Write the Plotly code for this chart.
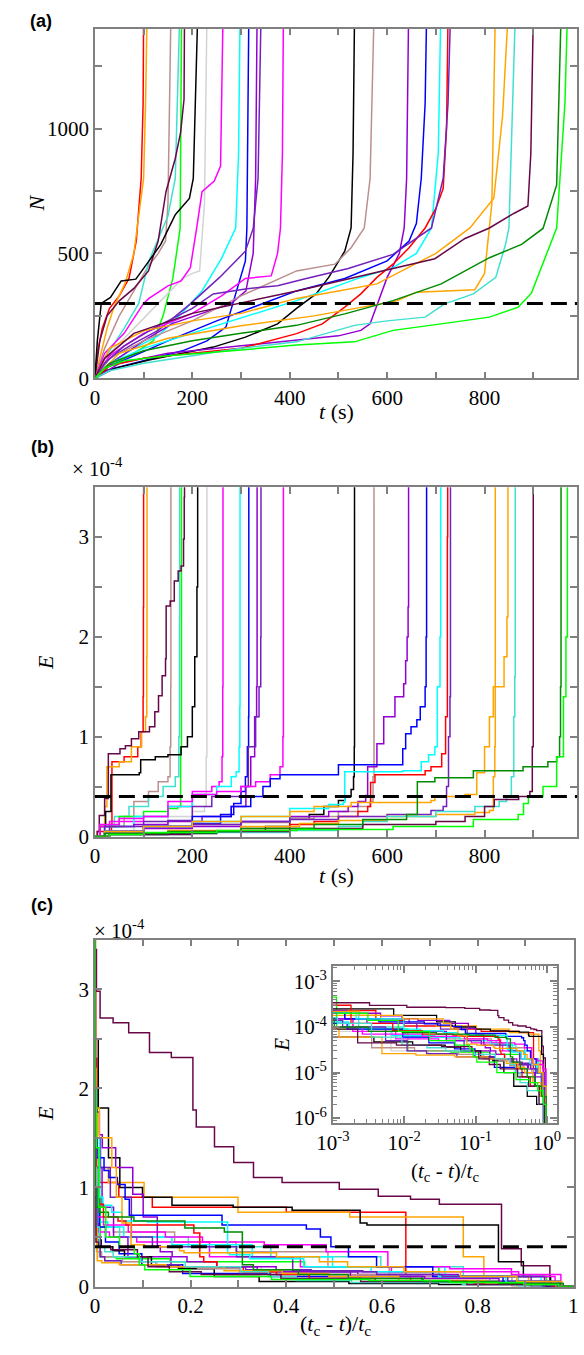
import plotly.graph_objects as go

# ---------------- DATA ----------------
# failure times t_c (s) of the 27 samples and xmgrace colours
t_c = [100, 107, 156, 174, 178, 184, 211, 230, 263, 298, 316, 333, 341, 387,
       533, 573, 644, 681, 710, 725, 730, 822, 848, 863, 900, 957, 970]
colors = ["#FF0000", "#FFA500", "#BC8F8F", "#40E0D0", "#00FF00", "#670748", "#000000",
          "#D3D3D3", "#FF00FF", "#00FFFF", "#0000FF", "#9400D3", "#7221BC", "#FF00FF",
          "#000000", "#BC8F8F", "#9400D3", "#0000FF", "#00FFFF", "#FF0000", "#7221BC",
          "#FFA500", "#FFA500", "#40E0D0", "#670748", "#008B00", "#00FF00"]

# N(t): number of events; E(t): energy in units of 1e-4
c01_tN = [0, 5, 15, 30, 50, 70, 85, 95, 99, 100]
c01_N = [0, 100, 200, 280, 330, 400, 550, 800, 1100, 1450]
c01_tE = [0, 5, 34, 35, 60, 88, 95, 99, 99.6, 100]
c01_E = [0, 0.05, 0.1, 0.75, 0.8, 0.9, 1.05, 1.4, 2.3, 50]

c02_tN = [0, 10, 25, 40, 62, 80, 91, 100, 104, 107]
c02_N = [0, 80, 200, 290, 380, 500, 668, 800, 1100, 1450]
c02_tE = [0, 10, 20, 24.6, 50, 75, 96, 104, 106.5, 107]
c02_E = [0, 0.1, 0.3, 0.7, 0.75, 0.9, 1.05, 1.2, 1.8, 50]

c03_tN = [0, 20, 50, 80, 110, 130, 145, 150, 156]
c03_N = [0, 120, 250, 350, 450, 500, 550, 700, 1450]
c03_tE = [0, 20, 60, 80, 110, 130, 150, 154.4, 155.7, 156]
c03_E = [0, 0.1, 0.2, 0.35, 0.45, 0.55, 0.6, 0.9, 1.5, 50]

c04_tN = [0, 20, 60, 90, 111, 130, 150, 165, 174]
c04_N = [0, 80, 200, 300, 470, 560, 650, 800, 1450]
c04_tE = [0, 20, 40, 70, 110, 140, 165, 172.3, 173.6, 174]
c04_E = [0, 0.1, 0.2, 0.3, 0.4, 0.5, 0.6, 1.0, 2.2, 50]

c05_tN = [0, 30, 80, 120, 140, 160, 175, 178]
c05_N = [0, 50, 100, 150, 250, 400, 600, 1450]
c05_tE = [0, 10, 50, 100, 150, 170, 176, 177.8, 178]
c05_E = [0, 0.1, 0.2, 0.25, 0.28, 0.3, 0.9, 4.5, 50]

c06_tN = [0, 10, 25, 50, 80, 110, 130, 146, 165, 176, 183, 184]
c06_N = [0, 150, 250, 310, 360, 430, 550, 747, 880, 985, 1117, 1450]
c06_tE = [0, 5, 9, 20, 27.6, 51.5, 62.6, 75, 90, 112, 123, 130.6, 138, 145,
          146.3, 154.6, 163, 171, 177, 182, 183.4, 184]
c06_E = [0, 0.05, 0.21, 0.38, 0.83, 0.88, 0.91, 0.98, 1.05, 1.1, 1.25, 1.41, 1.61, 1.78,
         2.31, 2.36, 2.56, 2.66, 2.71, 2.98, 3.4, 50]

c07_tN = [0, 5, 13, 32, 54, 84, 106, 135, 165, 194, 202, 206, 211]
c07_N = [0, 150, 300, 324, 390, 397, 456, 535, 655, 720, 800, 1118, 1450]
c07_tE = [0, 10, 22, 33, 91, 94, 124, 150, 177, 190, 200, 205, 209.5, 211]
c07_E = [0, 0.1, 0.25, 0.62, 0.64, 0.77, 0.8, 0.82, 0.9, 1.0, 1.3, 1.8, 2.5, 50]

c08_tN = [0, 30, 80, 130, 180, 200, 215, 225, 230]
c08_N = [0, 100, 200, 300, 400, 420, 430, 700, 1450]
c08_tE = [0, 20, 80, 150, 200, 225, 228.5, 230]
c08_E = [0, 0.05, 0.1, 0.2, 0.25, 0.3, 0.8, 50]

c09_tN = [0, 20, 60, 100, 111, 150, 177, 196, 209, 220, 245, 258, 263]
c09_N = [0, 100, 180, 300, 320, 370, 390, 443, 602, 747, 790, 850, 1450]
c09_tE = [0, 10, 30, 100, 150, 200, 240, 255, 261, 262.5, 263]
c09_E = [0, 0.1, 0.15, 0.2, 0.3, 0.45, 0.5, 0.55, 0.8, 1.5, 50]

c10_tN = [0, 30, 80, 130, 177, 220, 260, 289, 295, 298]
c10_N = [0, 60, 120, 170, 258, 350, 480, 602, 900, 1450]
c10_tE = [0, 20, 80, 150, 200, 250, 280, 290, 296, 297.5, 298]
c10_E = [0, 0.1, 0.2, 0.3, 0.42, 0.5, 0.6, 0.65, 0.9, 1.3, 50]

c11_tN = [0, 40, 100, 180, 230, 269, 289, 309, 312, 316]
c11_N = [0, 40, 70, 110, 150, 205, 338, 470, 600, 1450]
c11_tE = [0, 20, 100, 200, 258, 285, 300, 309, 313, 315.5, 316]
c11_E = [0, 0.05, 0.1, 0.13, 0.22, 0.33, 0.45, 0.6, 0.9, 1.2, 50]

c12_tN = [0, 40, 100, 160, 220, 280, 310, 325, 330, 333]
c12_N = [0, 70, 150, 220, 260, 300, 350, 500, 800, 1450]
c12_tE = [0, 20, 80, 150, 220, 280, 310, 320, 328, 332, 333]
c12_E = [0, 0.1, 0.12, 0.15, 0.2, 0.3, 0.5, 0.8, 1.2, 1.5, 50]

c13_tN = [0, 30, 80, 130, 196, 256, 309, 325, 335, 341]
c13_N = [0, 80, 140, 192, 298, 404, 509, 600, 800, 1450]
c13_tE = [0, 30, 100, 150, 200, 240, 300, 315, 330, 337, 340.5, 341]
c13_E = [0, 0.1, 0.15, 0.16, 0.3, 0.4, 0.5, 0.9, 1.2, 1.5, 2.0, 50]

c14_tN = [0, 30, 100, 200, 260, 309, 362, 375, 381, 385, 387]
c14_N = [0, 90, 180, 260, 330, 400, 410, 500, 602, 900, 1450]
c14_tE = [0, 10, 50, 100, 150, 200, 250, 300, 330, 360, 380, 386, 387]
c14_E = [0, 0.12, 0.18, 0.2, 0.35, 0.42, 0.45, 0.5, 0.55, 0.62, 0.7, 1.0, 50]

c15_tN = [0, 20, 111, 177, 243, 309, 375, 414, 454, 480, 513, 526, 530, 533]
c15_N = [0, 30, 73, 99, 125, 165, 218, 280, 338, 404, 509, 602, 900, 1450]
c15_tE = [0, 30, 150, 250, 350, 400, 440, 470, 500, 513, 526, 531, 532.5, 533]
c15_E = [0, 0.02, 0.03, 0.05, 0.1, 0.18, 0.22, 0.3, 0.36, 0.4, 0.47, 0.6, 0.9, 50]

c16_tN = [0, 30, 100, 200, 300, 414, 493, 526, 553, 565, 573]
c16_N = [0, 80, 150, 230, 330, 430, 457, 523, 602, 800, 1450]
c16_tE = [0, 20, 100, 200, 300, 400, 450, 500, 540, 565, 571, 573]
c16_E = [0, 0.05, 0.1, 0.12, 0.14, 0.18, 0.2, 0.25, 0.3, 0.35, 0.6, 50]

c17_tN = [0, 50, 150, 300, 414, 500, 546, 565, 580, 600, 625, 635, 640, 644]
c17_N = [0, 60, 100, 130, 150, 170, 192, 218, 298, 404, 500, 602, 800, 1450]
c17_tE = [0, 30, 100, 200, 300, 400, 480, 520, 540, 556, 560, 579, 593, 616, 634, 638, 641, 643, 644]
c17_E = [0, 0.05, 0.08, 0.1, 0.15, 0.2, 0.25, 0.3, 0.35, 0.41, 0.7, 0.93, 1.2, 1.4, 1.53, 1.76, 2.0, 2.3, 50]

c18_tN = [0, 20, 80, 150, 250, 330, 414, 513, 600, 645, 660, 670, 678, 681]
c18_N = [0, 40, 90, 150, 230, 290, 350, 400, 470, 550, 620, 800, 1100, 1450]
c18_tE = [0, 20, 100, 200, 280, 320, 345, 360, 380, 500, 632, 638, 649, 661, 668, 678, 680, 681]
c18_E = [0, 0.05, 0.1, 0.2, 0.3, 0.4, 0.5, 0.58, 0.62, 0.72, 0.88, 1.03, 1.1, 1.17, 1.3, 1.5, 2.0, 50]

c19_tN = [0, 30, 100, 200, 300, 414, 546, 612, 660, 691, 705, 710]
c19_N = [0, 60, 120, 180, 240, 311, 404, 443, 500, 602, 900, 1450]
c19_tE = [0, 20, 100, 200, 300, 400, 480, 510, 513, 632, 670, 685, 698, 703, 708.5, 710]
c19_E = [0, 0.05, 0.1, 0.15, 0.2, 0.28, 0.32, 0.34, 0.65, 0.66, 0.75, 0.82, 0.9, 1.5, 2.0, 50]

c20_tN = [0, 30, 100, 200, 300, 414, 467, 513, 546, 579, 612, 645, 678, 700, 715, 722, 725]
c20_N = [0, 50, 80, 100, 120, 179, 218, 285, 338, 404, 457, 523, 602, 680, 760, 1000, 1450]
c20_tE = [0, 30, 150, 300, 400, 450, 500, 540, 560, 566, 575, 678, 690, 712, 720, 723.7, 724.3, 725]
c20_E = [0, 0.03, 0.05, 0.08, 0.12, 0.15, 0.2, 0.25, 0.3, 0.54, 0.62, 0.66, 0.7, 0.83, 1.2, 3.0, 10, 50]

c21_tN = [0, 20, 60, 120, 200, 243, 309, 375, 434, 520, 612, 691, 715, 725, 730]
c21_N = [0, 60, 130, 200, 280, 338, 358, 371, 400, 440, 496, 602, 800, 1100, 1450]
c21_tE = [0, 20, 100, 200, 300, 400, 500, 600, 690, 715, 722, 726, 729, 730]
c21_E = [0, 0.05, 0.1, 0.12, 0.15, 0.17, 0.2, 0.22, 0.26, 0.3, 0.5, 1.0, 1.4, 50]

c22_tN = [0, 50, 150, 300, 450, 550, 620, 660, 780, 800, 815, 822]
c22_N = [0, 100, 160, 210, 250, 285, 310, 345, 355, 420, 700, 1450]
c22_tE = [0, 30, 150, 300, 420, 500, 600, 700, 780, 810, 818, 821, 822]
c22_E = [0, 0.03, 0.06, 0.1, 0.13, 0.16, 0.2, 0.22, 0.24, 0.26, 0.6, 0.9, 50]

c23_tN = [0, 30, 100, 200, 300, 414, 500, 579, 650, 700, 770, 819, 837, 848]
c23_N = [0, 120, 190, 230, 260, 320, 350, 378, 450, 500, 602, 721, 1050, 1450]
c23_tE = [0, 20, 100, 200, 300, 400, 450, 526, 690, 698, 760, 784, 800, 810, 818, 840, 846, 848]
c23_E = [0, 0.05, 0.1, 0.15, 0.2, 0.25, 0.3, 0.34, 0.36, 0.4, 0.42, 0.64, 0.9, 1.2, 1.5, 1.8, 2.2, 50]

c24_tN = [0, 30, 100, 200, 300, 414, 533, 600, 678, 718, 777, 823, 843, 850, 863]
c24_N = [0, 30, 60, 90, 120, 146, 212, 230, 245, 298, 338, 404, 536, 602, 1450]
c24_tE = [0, 30, 200, 400, 500, 550, 600, 700, 780, 830, 845, 855, 860, 862, 863]
c24_E = [0, 0.02, 0.04, 0.06, 0.1, 0.15, 0.2, 0.25, 0.3, 0.35, 0.4, 0.6, 1.2, 1.6, 50]

c25_tN = [0, 20, 80, 200, 414, 500, 593, 698, 760, 810, 860, 889, 895, 900]
c25_N = [0, 80, 180, 260, 350, 390, 433, 479, 560, 602, 660, 690, 900, 1450]
c25_tE = [0, 30, 200, 400, 550, 700, 760, 800, 820, 870, 893, 898, 900]
c25_E = [0, 0.02, 0.05, 0.08, 0.12, 0.15, 0.2, 0.3, 0.37, 0.4, 0.45, 0.9, 50]

c26_tN = [0, 30, 100, 200, 300, 414, 513, 612, 711, 810, 876, 920, 948, 957]
c26_N = [0, 60, 110, 150, 180, 212, 258, 311, 378, 483, 536, 600, 774, 1450]
c26_tE = [0, 20, 150, 300, 450, 550, 640, 662, 698, 777, 879, 930, 948, 954, 956, 957]
c26_E = [0, 0.03, 0.05, 0.08, 0.12, 0.17, 0.22, 0.55, 0.59, 0.66, 0.7, 0.75, 0.8, 1.0, 1.5, 50]

c27_tN = [0, 20, 60, 150, 250, 414, 533, 612, 711, 810, 869, 879, 896, 948, 955, 965, 970]
c27_N = [0, 40, 70, 90, 105, 133, 146, 192, 218, 245, 285, 305, 340, 602, 800, 1100, 1450]
c27_tE = [0, 30, 100, 250, 414, 612, 777, 869, 880, 890, 920, 948, 962, 967, 970]
c27_E = [0, 0.02, 0.04, 0.06, 0.07, 0.1, 0.17, 0.22, 0.33, 0.4, 0.5, 0.8, 1.4, 2.0, 50]

N_threshold = 300
E_threshold = 0.4  # x 1e-4

curves = [
    (c01_tN, c01_N, c01_tE, c01_E), (c02_tN, c02_N, c02_tE, c02_E),
    (c03_tN, c03_N, c03_tE, c03_E), (c04_tN, c04_N, c04_tE, c04_E),
    (c05_tN, c05_N, c05_tE, c05_E), (c06_tN, c06_N, c06_tE, c06_E),
    (c07_tN, c07_N, c07_tE, c07_E), (c08_tN, c08_N, c08_tE, c08_E),
    (c09_tN, c09_N, c09_tE, c09_E), (c10_tN, c10_N, c10_tE, c10_E),
    (c11_tN, c11_N, c11_tE, c11_E), (c12_tN, c12_N, c12_tE, c12_E),
    (c13_tN, c13_N, c13_tE, c13_E), (c14_tN, c14_N, c14_tE, c14_E),
    (c15_tN, c15_N, c15_tE, c15_E), (c16_tN, c16_N, c16_tE, c16_E),
    (c17_tN, c17_N, c17_tE, c17_E), (c18_tN, c18_N, c18_tE, c18_E),
    (c19_tN, c19_N, c19_tE, c19_E), (c20_tN, c20_N, c20_tE, c20_E),
    (c21_tN, c21_N, c21_tE, c21_E), (c22_tN, c22_N, c22_tE, c22_E),
    (c23_tN, c23_N, c23_tE, c23_E), (c24_tN, c24_N, c24_tE, c24_E),
    (c25_tN, c25_N, c25_tE, c25_E), (c26_tN, c26_N, c26_tE, c26_E),
    (c27_tN, c27_N, c27_tE, c27_E),
]

# ---------------- FIGURE ----------------
W, H = 584, 1355


def px(x):
    return x / W


def py(y):
    return 1 - y / H


fig = go.Figure()
LW = 1.5
for tc, col, (tN, N, tE, E) in zip(t_c, colors, curves):
    fig.add_trace(go.Scatter(x=tN, y=N, mode="lines", line=dict(color=col, width=LW),
                             xaxis="x", yaxis="y", showlegend=False, hoverinfo="skip"))
    fig.add_trace(go.Scatter(x=tE, y=E, mode="lines", line=dict(color=col, width=LW, shape="hv"),
                             xaxis="x2", yaxis="y2", showlegend=False, hoverinfo="skip"))
    s = [(tc - t) / tc for t in tE]
    fig.add_trace(go.Scatter(x=s, y=E, mode="lines", line=dict(color=col, width=LW, shape="hv"),
                             xaxis="x3", yaxis="y3", showlegend=False, hoverinfo="skip"))
    fig.add_trace(go.Scatter(x=[max(v, 1e-4) for v in s], y=[max(e * 1e-4, 1e-7) for e in E],
                             mode="lines", line=dict(color=col, width=1.3, shape="hv"),
                             xaxis="x4", yaxis="y4", showlegend=False, hoverinfo="skip"))

SERIF = "Times New Roman, Liberation Serif, DejaVu Serif, serif"
SANS = "Arial, Liberation Sans, DejaVu Sans, sans-serif"
AX = "#808080"
TF = dict(family=SERIF, size=21, color="black")
common = dict(showline=True, linecolor=AX, linewidth=1.5, mirror="ticks", ticks="inside",
              ticklen=7, tickcolor=AX, tickwidth=1.5, showgrid=False, zeroline=False,
              tickfont=TF, fixedrange=True, ticklabeloverflow="allow")


def minor(d, ln=7):
    return dict(dtick=d, ticks="inside", ticklen=ln, tickcolor=AX, tickwidth=1.5, showgrid=False)


xl, xr = 80.8, 581
fig.update_layout(
    xaxis=dict(common, domain=[px(xl), px(xr)], range=[0, 990], tick0=0, dtick=200,
               minor=minor(100), anchor="y"),
    yaxis=dict(common, domain=[py(381.7), py(28.9)], range=[0, 1400], tick0=0, dtick=500,
               minor=minor(250), anchor="x"),
    xaxis2=dict(common, domain=[px(xl), px(xr)], range=[0, 990], tick0=0, dtick=200,
                minor=minor(100), anchor="y2"),
    yaxis2=dict(common, domain=[py(844), py(491.5)], range=[0, 3.5], tick0=0, dtick=1,
                minor=minor(0.5), anchor="x2"),
    xaxis3=dict(common, domain=[px(xl), px(578)], range=[0, 1.002], tick0=0, dtick=0.2,
                minor=minor(0.1), anchor="y3", tickvals=[0, 0.2, 0.4, 0.6, 0.8, 1],
                ticktext=["0", "0.2", "0.4", "0.6", "0.8", "1"]),
    yaxis3=dict(common, domain=[py(1298), py(948)], range=[0, 3.5], tick0=0, dtick=1,
                minor=minor(0.5), anchor="x3"),
    xaxis4=dict(common, type="log", domain=[px(327.7), px(560)], range=[-3, 0.14],
                tickvals=[1e-3, 1e-2, 1e-1, 1],
                ticktext=["10<sup>-3</sup>", "10<sup>-2</sup>", "10<sup>-1</sup>", "10<sup>0</sup>"],
                minor=dict(ticks="inside", ticklen=4, tickcolor=AX, tickwidth=1, dtick="D1"),
                anchor="y4"),
    yaxis4=dict(common, type="log", domain=[py(1132.7), py(975)], range=[-6.1, -2.67],
                tickvals=[1e-6, 1e-5, 1e-4, 1e-3],
                ticktext=["10<sup>-6</sup>", "10<sup>-5</sup>", "10<sup>-4</sup>", "10<sup>-3</sup>"],
                minor=dict(ticks="inside", ticklen=4, tickcolor=AX, tickwidth=1, dtick="D1"),
                anchor="x4"),
)

# threshold lines
dash = dict(color="black", width=3, dash="16px,8px")
fig.add_shape(type="line", xref="x domain", yref="y", x0=0, x1=1, y0=N_threshold, y1=N_threshold, line=dash)
fig.add_shape(type="line", xref="x2 domain", yref="y2", x0=0, x1=1, y0=E_threshold, y1=E_threshold, line=dash)
fig.add_shape(type="line", xref="x3 domain", yref="y3", x0=0, x1=1, y0=E_threshold, y1=E_threshold, line=dash)

ann = []


def A(x, y, text, size=22, angle=0, family=SERIF):
    ann.append(dict(x=px(x), y=py(y), xref="paper", yref="paper", text=text, showarrow=False,
                    textangle=angle, font=dict(family=family, size=size, color="black"),
                    xanchor="center", yanchor="middle"))


A(25, 21, "<b>(a)</b>", 18, family=SANS)
A(26, 451, "<b>(b)</b>", 18, family=SANS)
A(26, 913, "<b>(c)</b>", 18, family=SANS)
A(83, 472, "× 10<sup>-4</sup>", 21)
A(106, 938, "× 10<sup>-4</sup>", 21)
A(20, 205, "<i>N</i>", 22, -90)
A(29, 668, "<i>E</i>", 22, -90)
A(29, 1123, "<i>E</i>", 22, -90)
A(331, 415, "<i>t</i> (s)", 22)
A(331, 883, "<i>t</i> (s)", 22)
A(330, 1337, "(<i>t</i><sub>c</sub> - <i>t</i>)/<i>t</i><sub>c</sub>", 22)
A(275, 1054, "<i>E</i>", 21, -90)
A(444, 1182, "(<i>t</i><sub>c</sub> - <i>t</i>)/<i>t</i><sub>c</sub>", 21)

fig.update_layout(width=W, height=H, autosize=False, margin=dict(l=0, r=0, t=0, b=0),
                  paper_bgcolor="white", plot_bgcolor="white", annotations=ann, showlegend=False)

# remove the browser's default 8px body margin so the figure fills the window exactly
fig.write_html("out.html", config={"displayModeBar": False},
               post_script="document.body.style.margin='0px';document.body.style.overflow='hidden';"
                           "document.documentElement.style.overflow='hidden';")
